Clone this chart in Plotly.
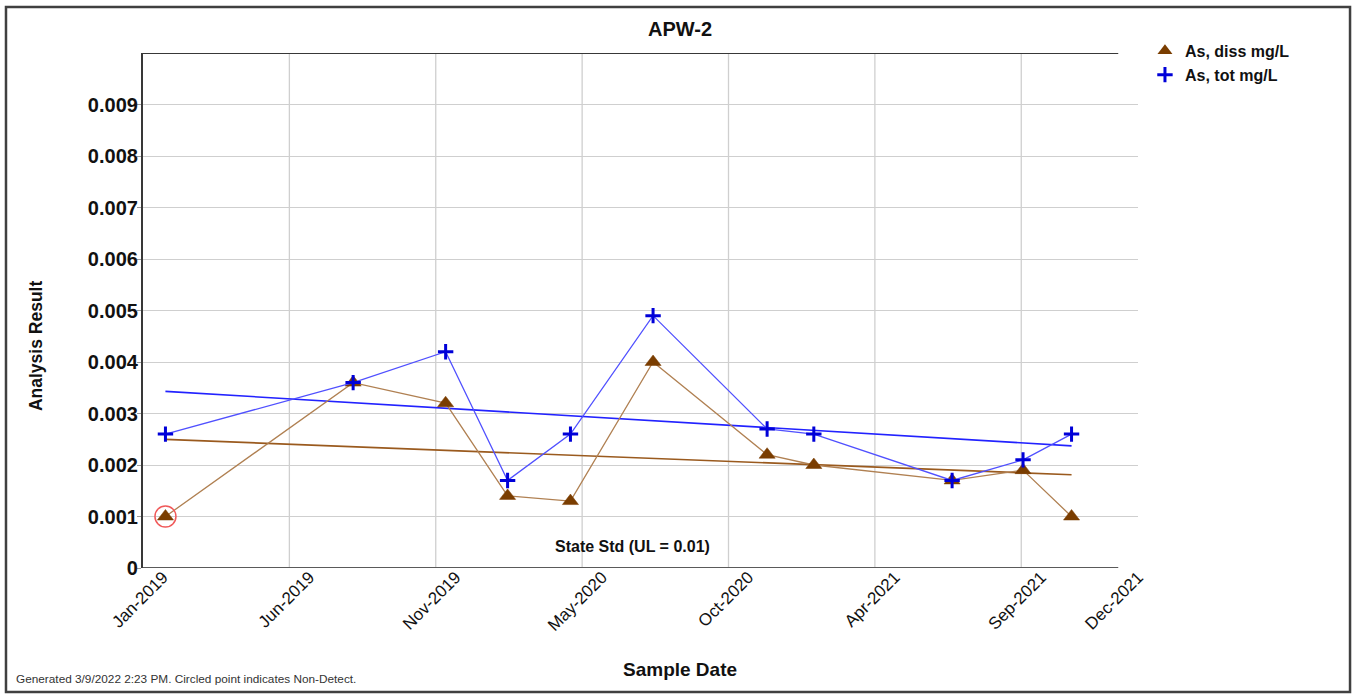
import numpy as np
import pandas as pd
import plotly.graph_objects as go

# ---------------- data ----------------
sample_dates = ["2019-02-01", "2019-08-29", "2019-12-10", "2020-02-17", "2020-04-27",
                "2020-07-28", "2020-12-02", "2021-01-23", "2021-06-26", "2021-09-13",
                "2021-11-06"]
as_diss = [0.0010, 0.0036, 0.0032, 0.0014, 0.0013, 0.0040, 0.0022, 0.0020, 0.0017, 0.0019, 0.0010]
as_tot = [0.0026, 0.0036, 0.0042, 0.0017, 0.0026, 0.0049, 0.0027, 0.0026, 0.0017, 0.0021, 0.0026]
diss_nondetect = [True, False, False, False, False, False, False, False, False, False, False]

x_tick_dates = ["2019-01-07", "2019-06-19", "2019-11-29", "2020-05-10", "2020-10-20",
                "2021-04-01", "2021-09-11", "2021-12-28"]
x_tick_labels = ["Jan-2019", "Jun-2019", "Nov-2019", "May-2020", "Oct-2020",
                 "Apr-2021", "Sep-2021", "Dec-2021"]
x_range = ["2019-01-07", "2022-01-19"]

y_tick_vals = [0, 0.001, 0.002, 0.003, 0.004, 0.005, 0.006, 0.007, 0.008, 0.009]
y_tick_labels = ["0", "0.001", "0.002", "0.003", "0.004", "0.005", "0.006", "0.007", "0.008", "0.009"]
state_std = 0.01

series_names = ["As, diss mg/L", "As, tot mg/L"]

# ---------------- styles ----------------
FONT = "Liberation Sans, Arial, sans-serif"
BROWN_MK = "#7a3d00"
BROWN_LN = "#b08052"
BROWN_TR = "#9a5a1e"
BLUE_MK = "#0000d8"
BLUE_LN = "#5050ff"
BLUE_TR = "#2222ff"
GRID = "#cfcfcf"

W, H = 1354, 694

dts = pd.to_datetime(sample_dates)
days = (dts - dts[0]).days.values.astype(float)


def trend(vals):
    m, b = np.polyfit(days, np.array(vals), 1)
    return [b + m * days[0], b + m * days[-1]]


fig = go.Figure()

shapes = []
for d in x_tick_dates[1:-1]:
    shapes.append(dict(type="line", xref="x", yref="y", x0=d, x1=d, y0=0, y1=state_std,
                       line=dict(color=GRID, width=1.3), layer="below"))
shapes.append(dict(type="line", xref="x", yref="y", x0=x_range[0], x1=x_tick_dates[-1],
                   y0=state_std, y1=state_std, line=dict(color="#383838", width=2.2)))
shapes.append(dict(type="line", xref="x", yref="y", x0=x_range[0], x1=x_tick_dates[-1],
                   y0=0, y1=0, line=dict(color="#5a5a5a", width=2.2)))
shapes.append(dict(type="rect", xref="paper", yref="paper", x0=-0.1377, x1=1.2131,
                   y0=-0.2408, y1=1.0893, line=dict(color="#404040", width=2.5)))

fig.add_trace(go.Scatter(x=[sample_dates[0], sample_dates[-1]], y=trend(as_tot), mode="lines",
                         line=dict(color=BLUE_TR, width=1.6), showlegend=False, hoverinfo="skip"))
fig.add_trace(go.Scatter(x=[sample_dates[0], sample_dates[-1]], y=trend(as_diss), mode="lines",
                         line=dict(color=BROWN_TR, width=1.6), showlegend=False, hoverinfo="skip"))

fig.add_trace(go.Scatter(x=sample_dates, y=as_diss, mode="lines+markers", name=series_names[0],
                         line=dict(color=BROWN_LN, width=1.3),
                         marker=dict(symbol="triangle-up", size=14, color=BROWN_MK,
                                     line=dict(color=BROWN_MK, width=0.5)),
                         showlegend=False))
fig.add_trace(go.Scatter(x=sample_dates, y=as_tot, mode="lines+markers", name=series_names[1],
                         line=dict(color=BLUE_LN, width=1.3),
                         marker=dict(symbol="cross-thin", size=11, color=BLUE_MK,
                                     line=dict(color=BLUE_MK, width=3)),
                         showlegend=False))

nd_x = [d for d, f in zip(sample_dates, diss_nondetect) if f]
nd_y = [v for v, f in zip(as_diss, diss_nondetect) if f]
fig.add_trace(go.Scatter(x=nd_x, y=nd_y, mode="markers", showlegend=False, hoverinfo="skip",
                         marker=dict(symbol="circle-open", size=21, color="#f05a5a",
                                     line=dict(color="#f05a5a", width=1.5))))

fig.add_trace(go.Scatter(x=[None], y=[None], mode="markers", name=series_names[0],
                         marker=dict(symbol="triangle-up", size=13, color=BROWN_MK)))
fig.add_trace(go.Scatter(x=[None], y=[None], mode="markers", name=series_names[1],
                         marker=dict(symbol="cross-thin", size=11, color=BLUE_MK,
                                     line=dict(color=BLUE_MK, width=3))))

annotations = [
    dict(text="<b>Sample Date</b>", xref="paper", yref="paper", x=0.5397, y=-0.198,
         xanchor="center", yanchor="middle", showarrow=False,
         font=dict(family=FONT, size=19, color="#111")),
    dict(text="<b>Analysis Result</b>", xref="paper", yref="paper", x=-0.1075, y=0.431,
         xanchor="center", yanchor="middle", showarrow=False, textangle=-90,
         font=dict(family=FONT, size=17.5, color="#111")),
    dict(text="<b>State Std (UL = 0.01)</b>", xref="paper", yref="paper", x=0.4915, y=0.0427,
         xanchor="center", yanchor="middle", showarrow=False,
         font=dict(family=FONT, size=16, color="#111")),
    dict(text="Generated 3/9/2022 2:23 PM. Circled point indicates Non-Detect.",
         xref="paper", yref="paper", x=-0.1296, y=-0.2155, xanchor="left", yanchor="middle",
         showarrow=False, font=dict(family=FONT, size=11.8, color="#333")),
]

fig.update_layout(
    width=W, height=H,
    margin=dict(l=143, r=216, t=53, b=126, pad=0),
    paper_bgcolor="white", plot_bgcolor="white",
    title=dict(text="<b>APW-2</b>", x=680 / W, xref="container", xanchor="center",
               y=1 - 29 / H, yref="container", yanchor="middle",
               font=dict(family=FONT, size=20, color="#111")),
    font=dict(family=FONT, color="#111"),
    shapes=shapes,
    annotations=annotations,
    legend=dict(x=1.007, y=1.037, xanchor="left", yanchor="top", bgcolor="rgba(0,0,0,0)",
                font=dict(family=FONT, size=16, color="#111", weight="bold"),
                tracegroupgap=0, itemwidth=30),
    showlegend=True,
)

fig.update_xaxes(type="date", range=x_range, tickmode="array", tickvals=x_tick_dates,
                 ticktext=x_tick_labels, tickangle=-45, showgrid=False, zeroline=False,
                 showline=False, ticks="", ticklabelshift=20, ticklabelstandoff=-5,
                 tickfont=dict(family=FONT, size=17, color="#111"))
fig.update_yaxes(range=[0, state_std], tickmode="array", tickvals=y_tick_vals,
                 ticktext=y_tick_labels, showgrid=True, gridcolor=GRID, gridwidth=1.3,
                 zeroline=False, showline=True, linecolor="#383838", linewidth=2.2,
                 ticks="outside", ticklen=4, tickcolor="#999", ticklabelstandoff=-5,
                 tickfont=dict(family=FONT, size=20, color="#111", weight="bold"))

fig.write_html("out.html", config={"displayModeBar": False},
               post_script="document.body.style.margin='0';document.body.style.overflow='hidden';")
